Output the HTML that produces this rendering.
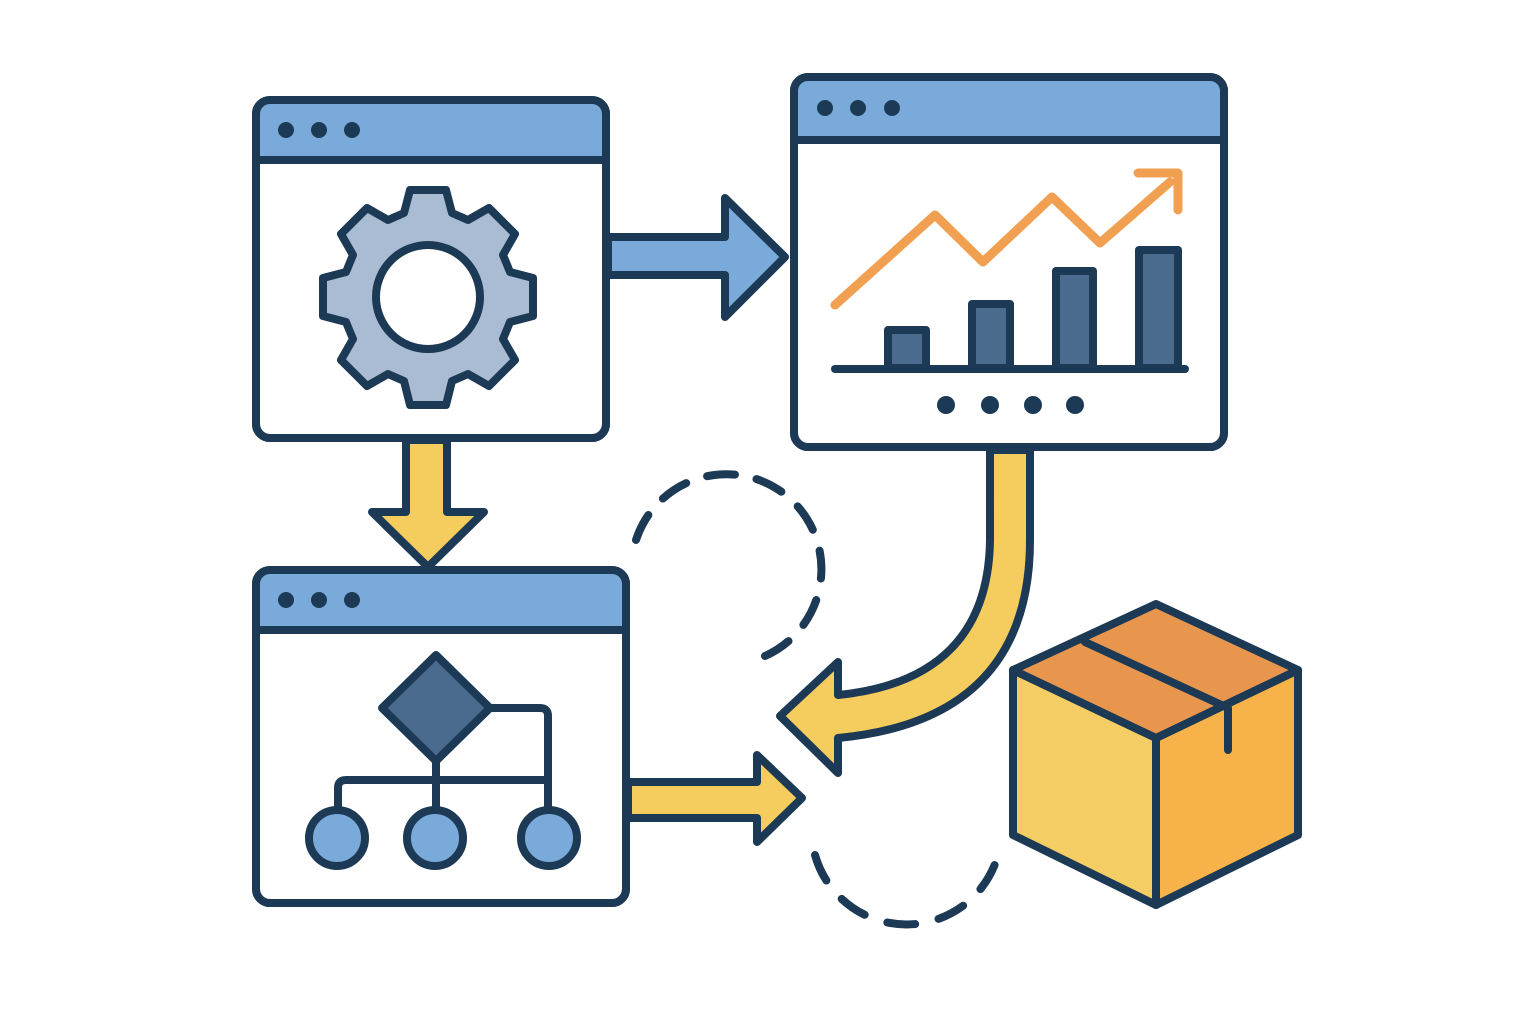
<!DOCTYPE html>
<html><head><meta charset="utf-8"><style>html,body{margin:0;padding:0;background:#fff}svg{display:block}</style></head>
<body>
<svg width="1536" height="1024" viewBox="0 0 1536 1024" xmlns="http://www.w3.org/2000/svg">
<g stroke="#1c3a55" stroke-width="8" stroke-linejoin="round" stroke-linecap="round">
<!-- window 1 -->
<rect x="256" y="100" width="350" height="338" rx="14" fill="#fff"/>
<path d="M259 103 H603 V160 H259 Z" fill="#7aaad9" stroke="none"/>
<rect x="256" y="100" width="350" height="338" rx="14" fill="none"/>
<line x1="256" y1="160" x2="606" y2="160"/>
<!-- gear -->
<path d="M410 190 L446 190 L452 213 L468 220 L489 208 L515 234 L503 255 L510 272 L533 278 L533 316 L510 322 L503 339 L515 360 L489 386 L468 374 L452 381 L446 405 L410 405 L404 381 L388 374 L367 386 L341 360 L353 339 L346 322 L323 316 L323 278 L346 272 L353 255 L341 234 L367 208 L388 220 L404 213 Z" fill="#a9bcd4"/>
<circle cx="428" cy="297" r="52" fill="#fff"/>
<!-- window 2 -->
<rect x="794" y="77" width="430" height="370" rx="14" fill="#fff"/>
<path d="M797 80 H1221 V140 H797 Z" fill="#7aaad9" stroke="none"/>
<rect x="794" y="77" width="430" height="370" rx="14" fill="none"/>
<line x1="794" y1="140" x2="1224" y2="140"/>
<!-- chart -->
<polyline points="835,305 935,215 983,262 1052,197 1100,243 1170,182" fill="none" stroke="#f0a050" stroke-width="9"/>
<polyline points="1138,173 1178,173 1178,210" fill="none" stroke="#f0a050" stroke-width="9"/>
<rect x="888" y="330" width="38" height="38" fill="#4a6a8e"/>
<rect x="972" y="304" width="38" height="64" fill="#4a6a8e"/>
<rect x="1056" y="271" width="37" height="97" fill="#4a6a8e"/>
<rect x="1139" y="250" width="39" height="118" fill="#4a6a8e"/>
<line x1="835" y1="369" x2="1185" y2="369"/>
<!-- window 3 -->
<rect x="256" y="570" width="370" height="333" rx="14" fill="#fff"/>
<path d="M259 573 H623 V630 H259 Z" fill="#7aaad9" stroke="none"/>
<rect x="256" y="570" width="370" height="333" rx="14" fill="none"/>
<line x1="256" y1="630" x2="626" y2="630"/>
<!-- flowchart -->
<path d="M490 708 H540 Q548 708 548 716 V812" fill="none"/>
<line x1="436" y1="760" x2="436" y2="812"/>
<path d="M338 812 V788 Q338 780 346 780 H548" fill="none"/>
<polygon points="436,655 490,708 436,761 382,708" fill="#4a6a8e"/>
<circle cx="337" cy="838" r="28" fill="#7aaad9"/>
<circle cx="435" cy="838" r="28" fill="#7aaad9"/>
<circle cx="549" cy="838" r="28" fill="#7aaad9"/>
<!-- arrows -->
<polygon points="608,237 725,237 725,198 785,257 725,317 725,275 608,275" fill="#7aaad9"/>
<polygon points="406,440 447,440 447,512 484,512 428,567 372,512 406,512" fill="#f5cd5f"/>
<polygon points="628,782 757,782 757,755 802,798 757,842 757,818 628,818" fill="#f5cd5f"/>
<path d="M990 450 H1030 V540 Q1030 720 838 738 V773 L780 716 L838 662 V695 Q988 680 990 540 Z" fill="#f5cd5f"/>
<!-- dashed arcs -->
<path d="M636 540 A95 95 0 1 1 765 656" fill="none" stroke-dasharray="28 22"/>
<path d="M815 855 A95 95 0 0 0 998 855" fill="none" stroke-dasharray="28 24"/>
<!-- box -->
<polygon points="1156,738 1298,670 1298,835 1156,905" fill="#f7b24a"/>
<polygon points="1013,670 1156,738 1156,905 1013,835" fill="#f5cd65"/>
<polygon points="1013,670 1156,604 1298,670 1156,738" fill="#e8964e"/>
<polyline points="1085,642 1228,708 1228,750" fill="none"/>
</g>
<g fill="#1c3a55">
<circle cx="286" cy="130" r="8"/><circle cx="319" cy="130" r="8"/><circle cx="352" cy="130" r="8"/>
<circle cx="825" cy="108" r="8"/><circle cx="858" cy="108" r="8"/><circle cx="892" cy="108" r="8"/>
<circle cx="286" cy="600" r="8"/><circle cx="319" cy="600" r="8"/><circle cx="352" cy="600" r="8"/>
<circle cx="946" cy="405" r="9"/><circle cx="990" cy="405" r="9"/><circle cx="1033" cy="405" r="9"/><circle cx="1075" cy="405" r="9"/>
</g>
</svg>
</body></html>
